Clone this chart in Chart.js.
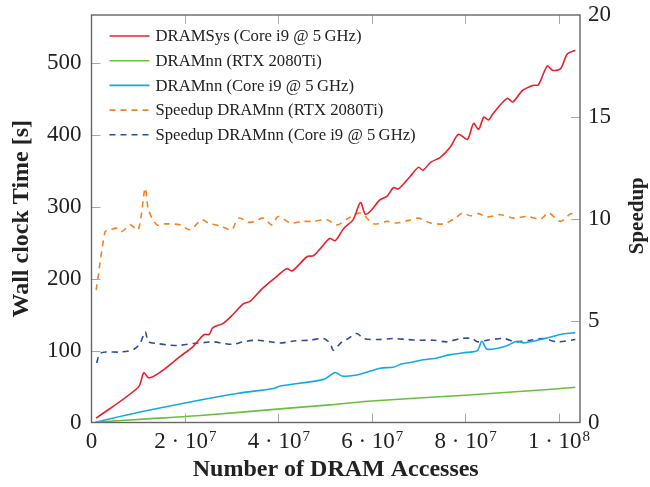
<!DOCTYPE html>
<html>
<head>
<meta charset="utf-8">
<script src="https://cdn.jsdelivr.net/npm/chart.js@4/dist/chart.umd.min.js"></script>
<style>
  body { margin: 0; background: #fff; }
  #wrap { width: 650px; height: 487px; }
</style>
</head>
<body>
<div id="wrap"><canvas id="plot"></canvas></div>
<script>
// x values in millions of DRAM accesses
const sysAccM = [1, 10, 11.2, 12.3, 14.7, 19, 21.8, 24, 25.2, 26, 28.2, 30.4, 32.5, 34, 36.5, 39.8, 41.8, 43, 46.2, 47.5, 49, 51, 52.2, 54, 56, 57.6, 58.6, 59.7, 61.8, 63.3, 64.7, 65.7, 68.3, 70, 71, 72.6, 74.7, 76.8, 78.6, 80.5, 81.8, 82.9, 84, 85, 86, 89, 90.2, 92.3, 94.5, 95.7, 97.6, 98.7, 100.4, 101.9, 103.6];
const sysTime = [6, 49, 69, 62, 70, 92, 106, 122, 123, 132, 138, 151, 165, 169, 186, 204, 214, 211, 231, 232, 242, 256, 253, 270, 282, 306, 290, 294, 310, 315, 327, 325, 343, 355, 351, 362, 369, 383, 401, 394, 416, 408, 425, 421, 430, 451, 446, 462, 469, 470, 496, 490, 492, 513, 518];

const rtxAccM = [1, 12, 24, 40.4, 51, 60, 80, 100, 103.6];
const rtxTime = [0.5, 5, 10, 19, 24.5, 30, 38, 47, 49];

const cpuAccM = [0.8, 10.4, 21.1, 31.1, 39, 40.4, 49.7, 52.2, 53.6, 56.8, 61.8, 64.6, 66.5, 68.3, 71.1, 74, 76.8, 80.4, 82.6, 83.6, 84.7, 88.6, 91.1, 92.6, 96.8, 101.1, 103.6];
const cpuTime = [0.4, 14.5, 28.6, 40.4, 47.4, 50.7, 60, 69.5, 64.8, 66, 75.6, 77, 81.7, 83.5, 87.3, 89.7, 94.4, 97.6, 100, 113, 102, 106, 113, 110.8, 116.5, 123.5, 125];

const spRtxAccM = [1, 2.9, 3.6, 5.4, 6.5, 8.3, 10, 11.5, 12.2, 14, 15.8, 19, 21.1, 23.6, 25, 27.9, 30, 31.5, 34, 36.8, 38.6, 40, 42.6, 45, 47.5, 50.4, 52.6, 54.7, 57.6, 60.4, 63.3, 65.4, 67.9, 70, 72.6, 75.4, 77.9, 79.4, 81.1, 82.9, 84.7, 87.6, 90.4, 93.3, 96.1, 97.9, 100.4, 102.6, 103.6];
const spRtx = [6.5, 9.37, 9.42, 9.54, 9.37, 9.7, 9.46, 11.5, 10.44, 9.7, 9.75, 9.7, 9.46, 9.95, 9.79, 9.62, 9.46, 10.03, 9.82, 10.03, 9.7, 10.11, 9.79, 9.87, 9.87, 9.95, 9.7, 9.98, 10.28, 9.75, 9.87, 9.79, 9.92, 10.03, 9.79, 9.75, 10.03, 10.28, 10.15, 10.25, 10.08, 10.2, 10.03, 10.11, 9.98, 10.28, 9.87, 10.25, 10.2];

const spCpuAccM = [1.1, 1.8, 3.3, 6.1, 9, 10.4, 11.5, 12.2, 14, 16.8, 19, 21.8, 24, 26.1, 28.3, 30.4, 32.5, 35.4, 38.3, 40.4, 43.3, 46.8, 49.7, 51.1, 51.8, 53.6, 55, 56.8, 58.3, 61.1, 64.7, 67.6, 70.4, 73.3, 76.1, 79, 81.5, 82.6, 84.7, 88.3, 90.8, 94, 96.8, 99.7, 103.6];
const spCpu = [2.92, 3.38, 3.46, 3.46, 3.58, 3.88, 4.45, 3.96, 3.88, 3.79, 3.79, 3.88, 3.92, 3.96, 3.88, 3.84, 3.96, 4.04, 3.96, 3.9, 4.0, 4.04, 4.12, 3.88, 3.55, 3.96, 4.12, 4.37, 4.12, 4.07, 4.12, 4.07, 4.04, 4.04, 3.96, 4.12, 4.12, 3.96, 4.04, 4.12, 3.96, 4.04, 4.12, 3.96, 4.07];

const seriesLabels = [
    'DRAMSys (Core i9 @ 5\u2009GHz)',
    'DRAMnn (RTX 2080Ti)',
    'DRAMnn (Core i9 @ 5\u2009GHz)',
    'Speedup DRAMnn (RTX 2080Ti)',
    'Speedup DRAMnn (Core i9 @ 5\u2009GHz)'
];

const xTicks = [0, 2e7, 4e7, 6e7, 8e7, 1e8];
const xTickLabels = ['0', '2 \u00b7 10^7', '4 \u00b7 10^7', '6 \u00b7 10^7', '8 \u00b7 10^7', '1 \u00b7 10^8'];
const timeTicks = [0, 100, 200, 300, 400, 500];
const speedupTicks = [0, 5, 10, 15, 20];

const SERIF = "'Liberation Serif', 'DejaVu Serif', serif";
const TICK_PX = 23;

function pts(xs, ys) {
    return xs.map((x, i) => ({ x: x * 1e6, y: ys[i] }));
}

function line(label, data, color, axis, dashed) {
    return {
        label: label,
        data: data,
        yAxisID: axis,
        borderColor: color,
        backgroundColor: color,
        borderWidth: 1.6,
        borderDash: dashed ? [6, 5] : [],
        pointRadius: 0,
        tension: 0.3,
        fill: false
    };
}

function noPadV(s, w) { s.width = w; s.paddingTop = 0; s.paddingBottom = 0; }

// inward tick marks, frame, superscript x labels, right title, legend inside the plot
const decorations = {
    id: 'decorations',
    afterDraw(chart) {
        const { ctx, chartArea: a, scales } = chart;
        ctx.save();
        ctx.strokeStyle = '#a8a8a8';
        ctx.lineWidth = 1;
        const tl = 9;
        scales.x.ticks.forEach(t => {
            const px = Math.round(scales.x.getPixelForValue(t.value)) + 0.5;
            if (px <= a.left + 2 || px >= a.right - 2) return;
            ctx.beginPath();
            ctx.moveTo(px, a.bottom); ctx.lineTo(px, a.bottom - tl);
            ctx.moveTo(px, a.top); ctx.lineTo(px, a.top + tl);
            ctx.stroke();
        });
        scales.y.ticks.forEach(t => {
            const py = Math.round(scales.y.getPixelForValue(t.value)) + 0.5;
            if (py >= a.bottom - 2) return;
            ctx.beginPath();
            ctx.moveTo(a.left, py); ctx.lineTo(a.left + tl, py);
            ctx.stroke();
        });
        scales.y2.ticks.forEach(t => {
            const py = Math.round(scales.y2.getPixelForValue(t.value)) + 0.5;
            if (py >= a.bottom - 2 || py <= a.top + 2) return;
            ctx.beginPath();
            ctx.moveTo(a.right, py); ctx.lineTo(a.right - tl, py);
            ctx.stroke();
        });

        ctx.strokeStyle = '#666';
        ctx.lineWidth = 1.4;
        ctx.strokeRect(a.left, a.top, a.right - a.left, a.bottom - a.top);

        // x tick labels with superscript exponents
        ctx.fillStyle = '#222';
        ctx.textBaseline = 'alphabetic';
        ctx.textAlign = 'left';
        xTicks.forEach((v, i) => {
            const parts = xTickLabels[i].split('^');
            const px = scales.x.getPixelForValue(v);
            ctx.font = TICK_PX + 'px ' + SERIF;
            const w1 = ctx.measureText(parts[0]).width;
            let w2 = 0;
            if (parts[1]) {
                ctx.font = '15px ' + SERIF;
                w2 = ctx.measureText(parts[1]).width;
            }
            const x0 = px - (w1 + w2) / 2;
            const base = a.bottom + 25.5;
            ctx.font = TICK_PX + 'px ' + SERIF;
            ctx.fillText(parts[0], x0, base);
            if (parts[1]) {
                ctx.font = '15px ' + SERIF;
                ctx.fillText(parts[1], x0 + w1 + 1, base - 7.5);
            }
        });

        // right axis title, read bottom to top
        ctx.save();
        ctx.translate(638, (a.top + a.bottom) / 2 - 3);
        ctx.rotate(-Math.PI / 2);
        ctx.textAlign = 'center';
        ctx.textBaseline = 'middle';
        ctx.font = 'bold 21px ' + SERIF;
        ctx.fillText('Speedup', 0, 0);
        ctx.restore();

        // legend
        ctx.font = '16.7px ' + SERIF;
        ctx.textBaseline = 'middle';
        chart.data.datasets.forEach((ds, i) => {
            const y = a.top + 21 + i * 24.7;
            ctx.strokeStyle = ds.borderColor;
            ctx.lineWidth = ds.borderWidth;
            ctx.setLineDash(ds.borderDash);
            ctx.beginPath();
            ctx.moveTo(a.left + 18, y); ctx.lineTo(a.left + 58, y);
            ctx.stroke();
            ctx.setLineDash([]);
            ctx.fillStyle = '#222';
            ctx.fillText(ds.label, a.left + 64, y + 1);
        });
        ctx.restore();
    }
};

const plot = new Chart(document.getElementById('plot').getContext('2d'), {
    type: 'line',
    data: {
        datasets: [
            line(seriesLabels[0], pts(sysAccM, sysTime), '#e8212b', 'y', false),
            line(seriesLabels[1], pts(rtxAccM, rtxTime), '#6abf3f', 'y', false),
            line(seriesLabels[2], pts(cpuAccM, cpuTime), '#12a9e6', 'y', false),
            line(seriesLabels[3], pts(spRtxAccM, spRtx), '#f58220', 'y2', true),
            line(seriesLabels[4], pts(spCpuAccM, spCpu), '#2f4a9e', 'y2', true)
        ]
    },
    options: {
        responsive: true,
        maintainAspectRatio: false,
        animation: false,
        layout: { padding: { top: 15, left: 0, right: 0, bottom: 0 } },
        plugins: {
            legend: { display: false },
            tooltip: { enabled: false }
        },
        scales: {
            x: {
                type: 'linear',
                min: 0,
                max: 1.046e8,
                afterBuildTicks: s => { s.ticks = xTicks.map(v => ({ value: v })); },
                afterFit: s => { s.height = 64.5; s.paddingLeft = 0; s.paddingRight = 0; },
                grid: { display: false, drawTicks: false },
                border: { display: false },
                ticks: { display: false },
                title: {
                    display: true,
                    text: 'Number of DRAM Accesses',
                    color: '#222',
                    font: { family: SERIF, size: 24, weight: 'bold' },
                    padding: { top: 0, bottom: 3 }
                }
            },
            y: {
                type: 'linear',
                position: 'left',
                min: 0,
                max: 567,
                afterBuildTicks: s => { s.ticks = timeTicks.map(v => ({ value: v })); },
                afterFit: s => noPadV(s, 91.5),
                grid: { display: false, drawTicks: false },
                border: { display: false },
                ticks: {
                    color: '#222',
                    padding: 10,
                    font: { family: SERIF, size: TICK_PX }
                },
                title: {
                    display: true,
                    text: 'Wall clock Time [s]',
                    color: '#222',
                    font: { family: SERIF, size: 24, weight: 'bold' },
                    padding: { top: 7, bottom: 0 }
                }
            },
            y2: {
                type: 'linear',
                position: 'right',
                min: 0,
                max: 20,
                afterBuildTicks: s => { s.ticks = speedupTicks.map(v => ({ value: v })); },
                afterFit: s => noPadV(s, 70),
                grid: { display: false, drawTicks: false },
                border: { display: false },
                ticks: {
                    color: '#222',
                    padding: 8,
                    font: { family: SERIF, size: TICK_PX }
                },
                title: { display: false }
            }
        }
    },
    plugins: [decorations]
});
</script>
</body>
</html>
